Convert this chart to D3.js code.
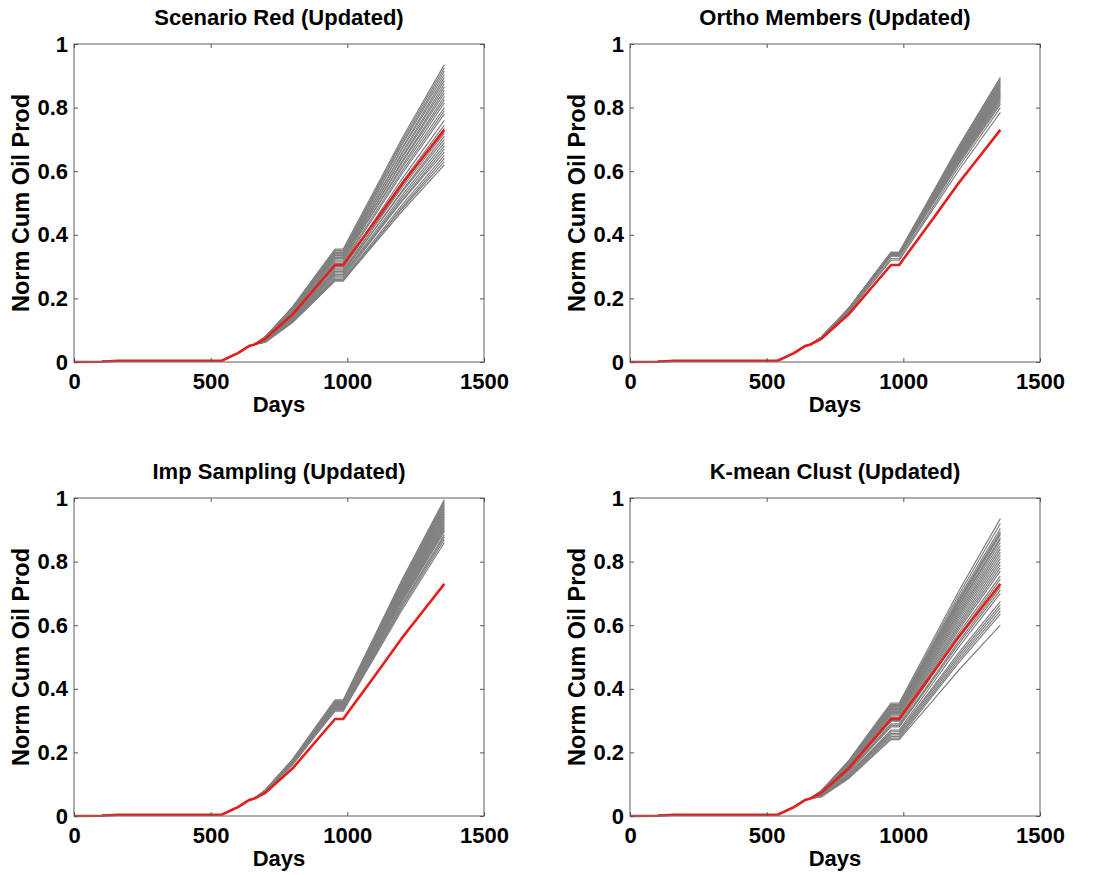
<!DOCTYPE html>
<html>
<head>
<meta charset="utf-8">
<script src="https://cdn.jsdelivr.net/npm/d3@7"></script>
<style>
  body { margin: 0; background: #fff; }
  text { font-family: "Liberation Sans", Arial, Helvetica, sans-serif; font-weight: bold; fill: #000; }
</style>
</head>
<body>
<script>
// Ensemble de producción acumulada normalizada, cuatro métodos de selección.

const WIDTH  = 1094;
const HEIGHT = 875;

const TITLES = ['Scenario Red (Updated)', 'Ortho Members (Updated)',
                'Imp Sampling (Updated)', 'K-mean Clust (Updated)'];
const X_TICKS = [0, 500, 1000, 1500];
const Y_TICKS = [0, 0.2, 0.4, 0.6, 0.8, 1];

// Historia (línea roja) -- días y valores
const TRUTH_DAYS = [0, 100, 160, 540, 600, 640, 660, 700, 800, 900, 955, 985, 1010, 1100, 1200, 1250, 1355];
const TRUTH_VALS = [0, 0.001, 0.004, 0.004, 0.028, 0.05, 0.055, 0.073, 0.15, 0.25, 0.305, 0.305, 0.335, 0.44, 0.56, 0.615, 0.73];

// Tramo inicial común a todos los miembros grises
const EARLY_DAYS = [0, 100, 160, 540, 600, 640, 660];
const EARLY_VALS = [0, 0.001, 0.004, 0.004, 0.028, 0.05, 0.055];
// Tramo final: un valor por miembro en cada uno de estos días
const LATE_DAYS = [700, 800, 900, 955, 985, 1010, 1100, 1200, 1355];

const SCENARIO_RED = [
  [.080, .174, .291, .355, .355, .396, .541, .703, .935],
  [.080, .172, .287, .350, .350, .390, .534, .695, .925],
  [.079, .169, .283, .345, .345, .385, .527, .687, .915],
  [.080, .172, .287, .350, .350, .389, .528, .683, .905],
  [.078, .167, .279, .340, .340, .379, .518, .673, .895],
  [.079, .169, .283, .345, .345, .383, .518, .669, .885],
  [.077, .164, .275, .335, .335, .373, .508, .659, .875],
  [.078, .167, .279, .340, .340, .377, .508, .655, .865],
  [.076, .162, .271, .330, .330, .367, .498, .645, .855],
  [.077, .164, .275, .335, .335, .371, .498, .641, .845],
  [.075, .159, .267, .325, .325, .361, .488, .631, .835],
  [.076, .162, .271, .330, .330, .365, .488, .627, .825],
  [.074, .157, .262, .320, .320, .355, .478, .617, .815],
  [.075, .159, .267, .325, .325, .358, .477, .610, .800],
  [.073, .154, .258, .315, .315, .348, .467, .600, .790],
  [.072, .152, .254, .310, .310, .343, .460, .592, .780],
  [.071, .147, .246, .300, .300, .332, .447, .576, .760],
  [.070, .145, .242, .295, .295, .327, .439, .565, .745],
  [.068, .140, .234, .285, .285, .317, .429, .555, .735],
  [.069, .142, .238, .290, .290, .320, .428, .548, .720],
  [.067, .137, .230, .280, .280, .310, .418, .538, .710],
  [.068, .140, .234, .285, .285, .314, .418, .534, .700],
  [.066, .135, .226, .275, .275, .304, .408, .524, .690],
  [.065, .132, .221, .270, .270, .299, .401, .516, .680],
  [.064, .130, .217, .265, .265, .293, .395, .508, .670],
  [.066, .135, .226, .275, .275, .302, .398, .506, .660],
  [.063, .127, .213, .260, .260, .287, .385, .494, .650],
  [.062, .125, .209, .255, .255, .282, .378, .486, .640],
  [.063, .127, .213, .260, .260, .286, .378, .482, .630],
  [.062, .125, .209, .255, .255, .281, .372, .474, .620]
];

const ORTHO_MEMBERS = [
  [.078, .169, .283, .345, .345, .384, .521, .675, .895],
  [.078, .169, .283, .345, .345, .383, .519, .672, .890],
  [.078, .168, .281, .343, .343, .381, .516, .668, .885],
  [.078, .168, .281, .343, .343, .381, .515, .665, .880],
  [.078, .168, .280, .342, .342, .379, .513, .662, .876],
  [.078, .168, .280, .342, .342, .379, .512, .660, .872],
  [.077, .167, .280, .341, .341, .378, .510, .657, .868],
  [.077, .167, .280, .341, .341, .378, .508, .655, .864],
  [.077, .167, .279, .340, .340, .376, .506, .652, .860],
  [.077, .167, .279, .340, .340, .376, .505, .650, .856],
  [.077, .166, .278, .339, .339, .375, .503, .647, .852],
  [.077, .166, .278, .339, .339, .375, .502, .644, .848],
  [.076, .166, .277, .338, .338, .373, .500, .642, .844],
  [.076, .166, .277, .338, .338, .373, .499, .639, .840],
  [.076, .165, .276, .337, .337, .372, .497, .636, .836],
  [.076, .165, .276, .337, .337, .372, .495, .634, .832],
  [.076, .165, .276, .336, .336, .370, .493, .631, .828],
  [.076, .164, .275, .335, .335, .369, .491, .627, .822],
  [.075, .164, .274, .334, .334, .368, .488, .623, .816],
  [.075, .163, .273, .333, .333, .366, .486, .619, .810],
  [.074, .159, .267, .325, .325, .358, .477, .610, .800],
  [.074, .157, .262, .320, .320, .353, .469, .599, .785]
];

const IMP_SAMPLING = [
  [.082, .179, .299, .365, .365, .409, .567, .743, .995],
  [.082, .177, .297, .362, .362, .406, .563, .739, .990],
  [.081, .176, .295, .360, .360, .404, .560, .735, .985],
  [.081, .176, .295, .360, .360, .403, .558, .732, .980],
  [.081, .175, .294, .358, .358, .401, .555, .728, .975],
  [.081, .175, .293, .357, .357, .400, .553, .725, .970],
  [.080, .174, .292, .356, .356, .399, .551, .721, .965],
  [.080, .174, .291, .355, .355, .397, .549, .718, .960],
  [.080, .173, .290, .354, .354, .396, .546, .715, .955],
  [.080, .172, .289, .352, .352, .394, .543, .711, .950],
  [.080, .172, .288, .351, .351, .393, .541, .707, .945],
  [.079, .172, .287, .350, .350, .391, .539, .704, .940],
  [.079, .171, .286, .349, .349, .390, .537, .701, .935],
  [.079, .171, .285, .348, .348, .389, .534, .697, .930],
  [.079, .170, .285, .347, .347, .387, .532, .694, .925],
  [.079, .170, .284, .346, .346, .386, .530, .690, .920],
  [.078, .169, .283, .345, .345, .385, .527, .687, .915],
  [.078, .169, .282, .344, .344, .384, .525, .684, .910],
  [.078, .168, .281, .343, .343, .382, .523, .680, .905],
  [.078, .168, .280, .342, .342, .381, .521, .677, .900],
  [.078, .167, .279, .340, .340, .379, .518, .673, .895],
  [.077, .166, .277, .338, .338, .376, .513, .666, .885],
  [.077, .164, .275, .335, .335, .373, .509, .661, .878],
  [.076, .163, .273, .333, .333, .371, .505, .655, .870],
  [.076, .162, .271, .330, .330, .367, .500, .648, .860]
];

const KMEAN_CLUST = [
  [.080, .174, .291, .355, .355, .396, .541, .703, .935],
  [.080, .172, .287, .350, .350, .390, .532, .692, .920],
  [.079, .171, .285, .348, .348, .387, .526, .682, .905],
  [.079, .169, .283, .345, .345, .384, .521, .675, .895],
  [.078, .168, .281, .343, .343, .381, .518, .671, .890],
  [.078, .167, .279, .340, .340, .378, .514, .667, .885],
  [.077, .166, .277, .338, .338, .376, .510, .660, .875],
  [.077, .164, .275, .335, .335, .372, .506, .656, .870],
  [.076, .163, .273, .333, .333, .370, .502, .649, .860],
  [.076, .162, .271, .330, .330, .366, .496, .642, .850],
  [.075, .161, .269, .328, .328, .364, .492, .635, .840],
  [.075, .159, .267, .325, .325, .360, .487, .628, .830],
  [.074, .158, .264, .322, .322, .357, .481, .621, .820],
  [.074, .157, .262, .320, .320, .354, .477, .614, .810],
  [.073, .154, .258, .315, .315, .349, .470, .606, .800],
  [.072, .152, .254, .310, .310, .344, .464, .598, .790],
  [.071, .149, .250, .305, .305, .338, .457, .590, .780],
  [.071, .147, .246, .300, .300, .333, .450, .582, .770],
  [.070, .146, .244, .298, .298, .330, .444, .572, .755],
  [.069, .142, .238, .290, .290, .322, .436, .563, .745],
  [.068, .140, .234, .285, .285, .315, .424, .546, .720],
  [.067, .137, .230, .280, .280, .310, .418, .538, .710],
  [.066, .132, .221, .270, .270, .300, .408, .528, .700],
  [.065, .130, .217, .265, .265, .294, .396, .511, .675],
  [.064, .127, .213, .260, .260, .288, .390, .503, .665],
  [.063, .125, .209, .255, .255, .283, .383, .495, .655],
  [.062, .123, .205, .250, .250, .278, .376, .487, .645],
  [.061, .120, .201, .245, .245, .272, .370, .479, .635],
  [.060, .118, .197, .240, .240, .265, .355, .456, .600]
];

const ENSEMBLES = [SCENARIO_RED, ORTHO_MEMBERS, IMP_SAMPLING, KMEAN_CLUST];

// Geometría de cada panel (esquina superior izquierda del área de trazado)
const PLOT_W = 410;
const PLOT_H = 318;
const ORIGINS = [[74, 44], [630, 44], [74, 498], [630, 498]];

const svg = d3.select('body').append('svg')
    .attr('width', WIDTH)
    .attr('height', HEIGHT);

const x = d3.scaleLinear().domain([0, 1500]).range([0, PLOT_W]);
const y = d3.scaleLinear().domain([0, 1]).range([PLOT_H, 0]);

const line = d3.line()
    .x(d => x(d[0]))
    .y(d => y(d[1]));

const truth = d3.zip(TRUTH_DAYS, TRUTH_VALS);
const early = d3.zip(EARLY_DAYS, EARLY_VALS);

const yFmt = d => d === 0 || d === 1 ? String(d) : d3.format('.1f')(d);

TITLES.forEach((title, i) => {
    const [ox, oy] = ORIGINS[i];
    const g = svg.append('g').attr('transform', `translate(${ox},${oy})`);

    // Miembros del ensemble
    g.append('g').selectAll('path')
        .data(ENSEMBLES[i])
        .enter()
      .append('path')
        .attr('d', row => line(early.concat(d3.zip(LATE_DAYS, row))))
        .attr('fill', 'none')
        .attr('stroke', '#808080')
        .attr('stroke-width', 1.2);

    // Historia
    g.append('path')
        .attr('d', line(truth))
        .attr('fill', 'none')
        .attr('stroke', '#e3201b')
        .attr('stroke-width', 2.6)
        .attr('stroke-linejoin', 'round');

    // Caja y marcas hacia adentro (estilo MATLAB)
    g.append('rect')
        .attr('width', PLOT_W).attr('height', PLOT_H)
        .attr('fill', 'none').attr('stroke', '#7a7a7a').attr('stroke-width', 1.2);

    const axB = g.append('g').attr('transform', `translate(0,${PLOT_H})`)
        .call(d3.axisBottom(x).tickValues(X_TICKS).tickSizeInner(-4).tickSizeOuter(0)
              .tickPadding(11).tickFormat(d3.format('d')));
    const axT = g.append('g')
        .call(d3.axisTop(x).tickValues(X_TICKS).tickSizeInner(-4).tickSizeOuter(0).tickFormat(''));
    const axL = g.append('g')
        .call(d3.axisLeft(y).tickValues(Y_TICKS).tickSizeInner(-4).tickSizeOuter(0).tickPadding(6).tickFormat(yFmt));
    const axR = g.append('g').attr('transform', `translate(${PLOT_W},0)`)
        .call(d3.axisRight(y).tickValues(Y_TICKS).tickSizeInner(-4).tickSizeOuter(0).tickFormat(''));

    [axB, axT, axL, axR].forEach(ax => {
        ax.select('.domain').remove();
        ax.selectAll('line').attr('stroke', '#555');
        ax.selectAll('text').style('font-size', '22px').attr('fill', '#000');
    });

    g.append('text')
        .attr('x', PLOT_W / 2).attr('y', -19)
        .attr('text-anchor', 'middle')
        .style('font-size', '22px')
        .text(title);

    g.append('text')
        .attr('x', PLOT_W / 2).attr('y', PLOT_H + 50)
        .attr('text-anchor', 'middle')
        .style('font-size', '22px')
        .text('Days');

    g.append('text')
        .attr('transform', `translate(-53,${PLOT_H / 2}) rotate(-90)`)
        .attr('text-anchor', 'middle')
        .attr('dy', '0.35em')
        .style('font-size', '23.5px')
        .text('Norm Cum Oil Prod');
});
</script>
</body>
</html>
